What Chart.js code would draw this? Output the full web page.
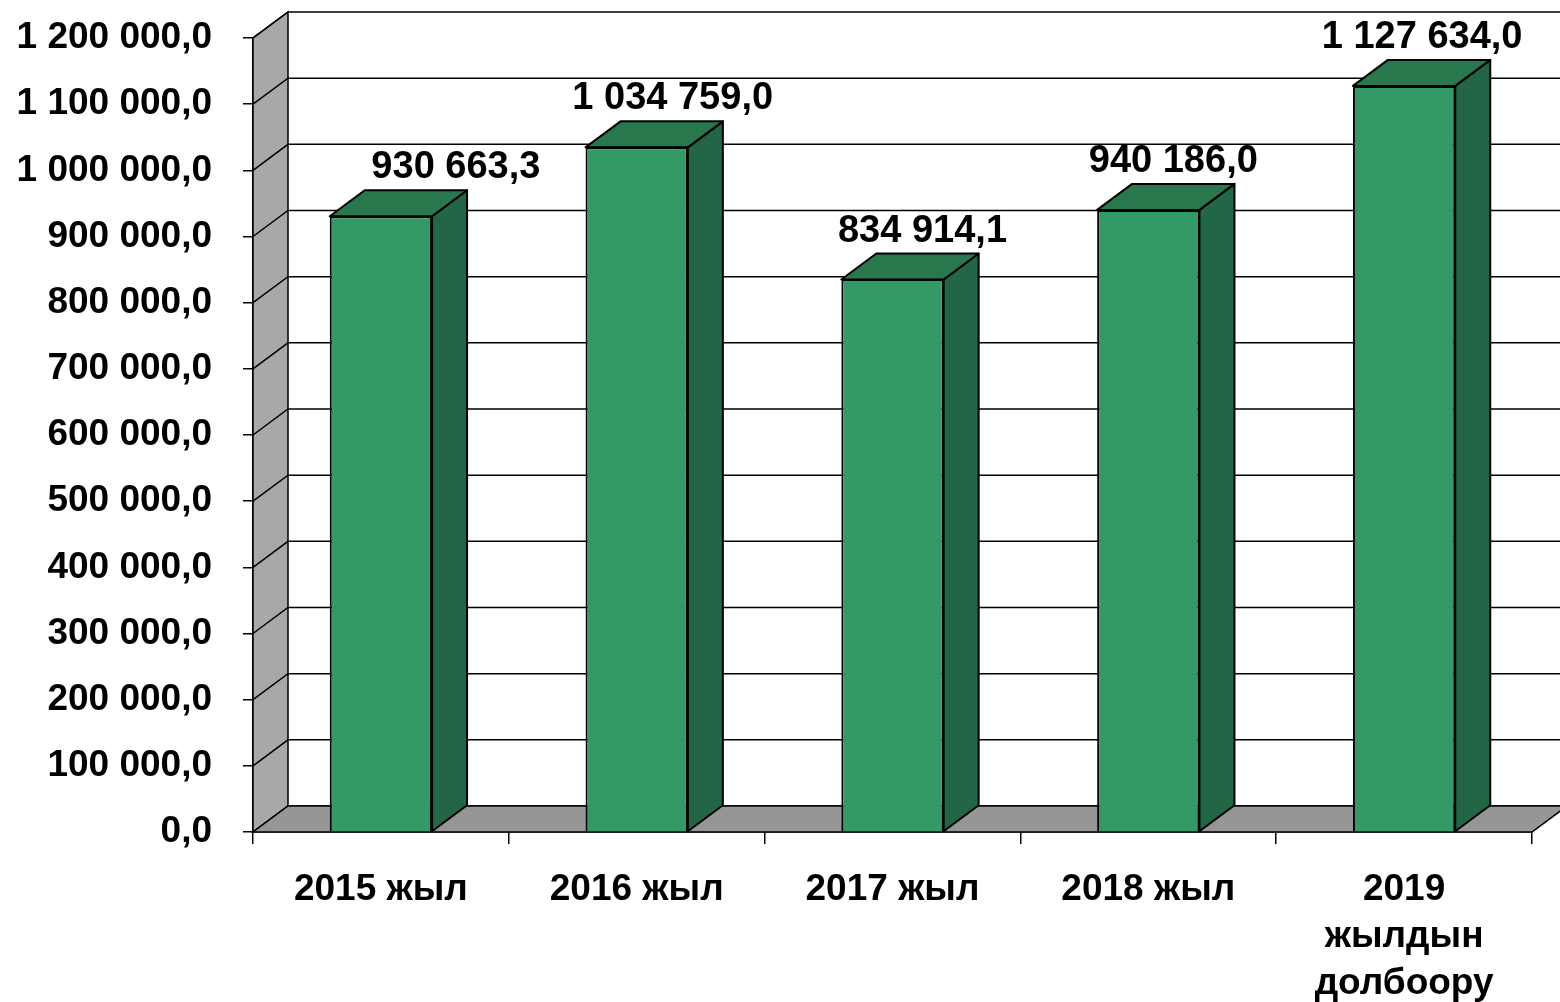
<!DOCTYPE html>
<html>
<head>
<meta charset="utf-8">
<script src="https://cdn.jsdelivr.net/npm/chart.js@4.4.1/dist/chart.umd.min.js"></script>
<style>
  html, body { margin: 0; padding: 0; background: #fff; }
  #wrap { width: 1560px; height: 1002px; }
</style>
</head>
<body>
<div id="wrap"><canvas id="chart"></canvas></div>
<script>
// data
var categories = ['2015 жыл', '2016 жыл', '2017 жыл', '2018 жыл', ['2019', 'жылдын', 'долбоору']];
var values = [930663.3, 1034759.0, 834914.1, 940186.0, 1127634.0];
var yMin = 0;
var yMax = 1200000;
var yStep = 100000;

// small horizontal nudges for the value labels, like in the original
var labelShift = [75, 36, 30, 25, 18];

// depth of the fake 3d
var DX = 35, DY = 26;
var FONT = '"Liberation Sans", Arial, sans-serif';

function fmt(v, dec) {
  var s = v.toFixed(dec);
  var parts = s.split('.');
  var int = parts[0].replace(/\B(?=(\d{3})+(?!\d))/g, ' ');
  return parts.length > 1 ? int + ',' + parts[1] : int;
}

// walls, floor and back gridlines
var walls = {
  id: 'walls',
  beforeDatasetsDraw: function(chart) {
    var ctx = chart.ctx, a = chart.chartArea, y = chart.scales.y;
    var top = y.getPixelForValue(yMax), bot = y.getPixelForValue(yMin);
    ctx.save();
    ctx.lineWidth = 1.5;
    ctx.strokeStyle = '#000';
    // left wall
    ctx.beginPath();
    ctx.moveTo(a.left, bot);
    ctx.lineTo(a.left, top);
    ctx.lineTo(a.left + DX, top - DY);
    ctx.lineTo(a.left + DX, bot - DY);
    ctx.closePath();
    ctx.fillStyle = '#a8a8a8';
    ctx.fill();
    ctx.stroke();
    // back grid + side diagonals
    for (var v = yMin; v <= yMax; v += yStep) {
      var py = y.getPixelForValue(v);
      ctx.beginPath();
      ctx.moveTo(a.left, py);
      ctx.lineTo(a.left + DX, py - DY);
      ctx.lineTo(a.right + DX + 40, py - DY);
      ctx.stroke();
    }
    // floor
    ctx.beginPath();
    ctx.moveTo(a.left, bot);
    ctx.lineTo(a.right, bot);
    ctx.lineTo(a.right + DX, bot - DY);
    ctx.lineTo(a.left + DX, bot - DY);
    ctx.closePath();
    ctx.fillStyle = '#969696';
    ctx.fill();
    ctx.stroke();
    ctx.restore();
  },
  afterDatasetsDraw: function(chart) {
    var ctx = chart.ctx;
    var meta = chart.getDatasetMeta(0);
    ctx.save();
    ctx.lineWidth = 2;
    ctx.strokeStyle = '#000';
    ctx.lineJoin = 'round';
    meta.data.forEach(function(bar, i) {
      var p = bar.getProps(['x', 'y', 'base', 'width'], true);
      var l = p.x - p.width / 2, r = p.x + p.width / 2, t = p.y, b = p.base;
      // side
      ctx.beginPath();
      ctx.moveTo(r, t);
      ctx.lineTo(r + DX, t - DY);
      ctx.lineTo(r + DX, b - DY);
      ctx.lineTo(r, b);
      ctx.closePath();
      ctx.fillStyle = '#226645';
      ctx.fill();
      ctx.stroke();
      // top
      ctx.beginPath();
      ctx.moveTo(l, t);
      ctx.lineTo(l + DX, t - DY);
      ctx.lineTo(r + DX, t - DY);
      ctx.lineTo(r, t);
      ctx.closePath();
      ctx.fillStyle = '#28774d';
      ctx.fill();
      ctx.stroke();
      // value label
      ctx.fillStyle = '#000';
      ctx.font = 'bold 38px ' + FONT;
      ctx.textAlign = 'center';
      ctx.textBaseline = 'alphabetic';
      ctx.fillText(fmt(values[i], 1), p.x + labelShift[i], t - DY - 12);
    });
    ctx.restore();
  }
};

new Chart(document.getElementById('chart'), {
  type: 'bar',
  data: {
    labels: categories,
    datasets: [{
      data: values,
      backgroundColor: '#339966',
      borderColor: '#000',
      borderWidth: 2,
      barPercentage: 0.4,
      categoryPercentage: 1.0
    }]
  },
  options: {
    responsive: true,
    maintainAspectRatio: false,
    animation: false,
    layout: { padding: { top: 38, right: 28, left: 0, bottom: 0 } },
    plugins: { legend: { display: false }, tooltip: { enabled: false } },
    scales: {
      x: {
        grid: { display: true, drawOnChartArea: false, drawTicks: true, tickLength: 12, color: '#000', lineWidth: 1.5 },
        border: { display: true, color: '#000', width: 1.5 },
        ticks: { color: '#000', padding: 22, maxRotation: 0, autoSkip: false,
          font: { family: FONT, size: 37, weight: 'bold', lineHeight: 1.27 } },
        afterFit: function(s) { s.height = 170; s.paddingLeft = 0; s.paddingRight = 0; }
      },
      y: {
        min: yMin, max: yMax,
        grid: { display: true, drawOnChartArea: false, drawTicks: true, tickLength: 10, color: '#000', lineWidth: 1.5 },
        border: { display: true, color: '#000', width: 1.5 },
        ticks: { stepSize: yStep, color: '#000', padding: 31,
          font: { family: FONT, size: 37, weight: 'bold' },
          callback: function(v) { return fmt(v, 1); } },
        afterFit: function(s) { s.width = 253; s.paddingTop = 0; s.paddingBottom = 0; }
      }
    }
  },
  plugins: [walls]
});
</script>
</body>
</html>
